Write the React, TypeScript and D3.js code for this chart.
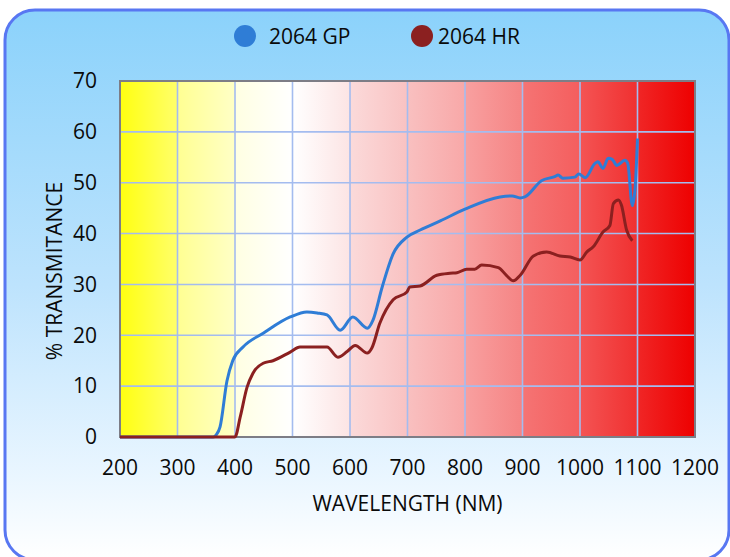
import React from "react";
import * as d3 from "d3";

// ---- data ----
const seriesNames = ["2064 GP", "2064 HR"];

const gpWavelength = [200, 362, 368, 374, 386, 396, 414, 449, 496, 525, 543, 560, 583, 605, 630, 640, 656, 675, 699, 722, 757, 800, 861, 882, 896, 904, 933, 956, 962, 970, 991, 998, 1009, 1026, 1031, 1040, 1049, 1056, 1064, 1078, 1083, 1091, 1096, 1100];
const gpTransmittance = [0, 0, 0.5, 2, 11, 15, 17.7, 20.4, 23.6, 24.6, 24.4, 24, 21, 23.6, 21.4, 23, 29.5, 36, 39.3, 40.7, 42.5, 44.8, 47.2, 47.4, 47, 47.2, 50.4, 51.2, 51.5, 50.9, 51.1, 51.7, 51, 53.8, 54.1, 52.8, 54.8, 54.6, 53.4, 54.4, 53.8, 45.5, 49.2, 58.7];

const hrWavelength = [200, 400, 409, 421, 431, 449, 466, 496, 513, 560, 579, 595, 609, 630, 638, 652, 675, 699, 704, 722, 751, 774, 786, 803, 817, 829, 858, 872, 884, 896, 919, 942, 965, 983, 1000, 1012, 1023, 1040, 1052, 1058, 1067, 1072, 1081, 1091];
const hrTransmittance = [0, 0, 3.9, 9.8, 12.5, 14.5, 15, 16.7, 17.7, 17.7, 15.7, 16.8, 18, 16.5, 17.5, 22.4, 27, 28.5, 29.5, 29.7, 31.8, 32.2, 32.3, 33, 33, 33.8, 33.3, 31.8, 30.7, 31.8, 35.6, 36.4, 35.6, 35.4, 34.8, 36.4, 37.4, 40.3, 41.6, 45.9, 46.6, 45.6, 40.7, 38.6];

const xTicks = [200, 300, 400, 500, 600, 700, 800, 900, 1000, 1100, 1200];
const yTicks = [0, 10, 20, 30, 40, 50, 60, 70];

const xTitle = "WAVELENGTH (NM)";
const yTitle = "% TRANSMITANCE";

// ---- styles ----
const W = 730;
const H = 557;
const plot = { left: 120, right: 695, top: 81, bottom: 437 };
const seriesColors = ["#2f7dd6", "#8b2020"];
const bandColors: [string, string][] = [
  ["#ffff10", "#ffff6a"],
  ["#ffff92", "#ffffc6"],
  ["#ffffe2", "#ffffff"],
  ["#ffffff", "#fce4e4"],
  ["#fbdada", "#f9c2c2"],
  ["#f9c0c0", "#f8a8a8"],
  ["#f8a0a0", "#f58484"],
  ["#f57474", "#f45e5e"],
  ["#f45454", "#f03030"],
  ["#f02626", "#ee0000"],
];
const FONT = "'Open Sans', sans-serif";
const FS = 21;
const TEXT = "#0a0a0a";

export default function App() {
  const x = d3.scaleLinear().domain([200, 1200]).range([plot.left, plot.right]);
  const y = d3.scaleLinear().domain([0, 70]).range([plot.bottom, plot.top]);

  const line = d3
    .line<[number, number]>()
    .x((d) => x(d[0]))
    .y((d) => y(d[1]))
    .curve(d3.curveMonotoneX);

  const gpData: [number, number][] = gpWavelength.map((w, i) => [w, gpTransmittance[i]]);
  const hrData: [number, number][] = hrWavelength.map((w, i) => [w, hrTransmittance[i]]);

  const bands = xTicks.slice(0, -1).map((t, i) => ({ x0: t, x1: xTicks[i + 1], colors: bandColors[i] }));

  const legendItems = [
    { name: seriesNames[0], color: seriesColors[0], cx: 245, tx: 269 },
    { name: seriesNames[1], color: seriesColors[1], cx: 422, tx: 438 },
  ];

  return (
    <svg
      width={W}
      height={H}
      style={{ position: "absolute", left: 0, top: 0, background: "#ffffff" }}
      fontFamily={FONT}
    >
      <defs>
        <linearGradient id="bg" x1="0" y1="0" x2="0" y2="1">
          <stop offset="0" stopColor="#8bd2fb" />
          <stop offset="0.5" stopColor="#bde3fd" />
          <stop offset="0.85" stopColor="#eaf6ff" />
          <stop offset="1" stopColor="#ffffff" />
        </linearGradient>
        {bands.map((b, i) => (
          <linearGradient key={i} id={`band${i}`} x1="0" y1="0" x2="1" y2="0">
            <stop offset="0" stopColor={b.colors[0]} />
            <stop offset="1" stopColor={b.colors[1]} />
          </linearGradient>
        ))}
      </defs>

      <rect x={5} y={10} width={724} height={550} rx={30} ry={30} fill="url(#bg)" stroke="#5877f2" strokeWidth={3} />

      {/* legend */}
      {legendItems.map((l) => (
        <g key={l.name}>
          <circle cx={l.cx} cy={36} r={11} fill={l.color} />
          <text x={l.tx} y={44} fontSize={FS} fill={TEXT}>
            {l.name}
          </text>
        </g>
      ))}

      {/* plot background bands */}
      {bands.map((b, i) => (
        <rect
          key={i}
          x={x(b.x0)}
          y={plot.top}
          width={x(b.x1) - x(b.x0)}
          height={plot.bottom - plot.top}
          fill={`url(#band${i})`}
        />
      ))}

      {/* grid */}
      {xTicks.slice(1, -1).map((t) => (
        <line key={`gx${t}`} x1={x(t)} x2={x(t)} y1={plot.top} y2={plot.bottom} stroke="#a4bcef" strokeWidth={1.6} />
      ))}
      {yTicks.slice(1, -1).map((t) => (
        <line key={`gy${t}`} x1={plot.left} x2={plot.right} y1={y(t)} y2={y(t)} stroke="#a4bcef" strokeWidth={1.6} />
      ))}
      <rect
        x={plot.left}
        y={plot.top}
        width={plot.right - plot.left}
        height={plot.bottom - plot.top}
        fill="none"
        stroke="#7d7d86"
        strokeWidth={2}
      />

      {/* series */}
      <path d={line(gpData) || ""} fill="none" stroke={seriesColors[0]} strokeWidth={3} strokeLinejoin="round" />
      <path d={line(hrData) || ""} fill="none" stroke={seriesColors[1]} strokeWidth={3} strokeLinejoin="round" />

      {/* y axis labels */}
      {yTicks.map((t) => (
        <text key={`yl${t}`} x={97} y={y(t)} dy="0.35em" textAnchor="end" fontSize={FS} fill={TEXT}>
          {t}
        </text>
      ))}
      {/* x axis labels */}
      {xTicks.map((t) => (
        <text key={`xl${t}`} x={x(t)} y={475} textAnchor="middle" fontSize={FS} fill={TEXT}>
          {t}
        </text>
      ))}

      <text x={(plot.left + plot.right) / 2} y={511} textAnchor="middle" fontSize={FS} fill={TEXT}>
        {xTitle}
      </text>
      <text transform="translate(62,271) rotate(-90)" textAnchor="middle" fontSize={FS} fill={TEXT}>
        {yTitle}
      </text>
    </svg>
  );
}
